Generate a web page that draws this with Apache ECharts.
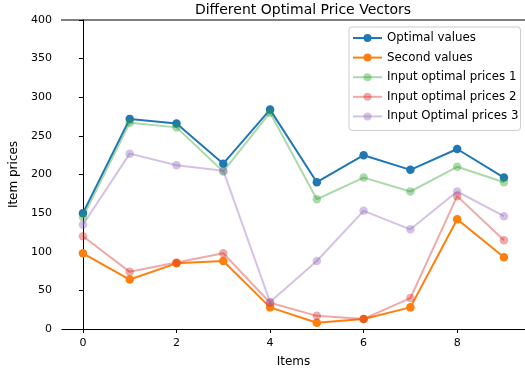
<!DOCTYPE html>
<html><head><meta charset="utf-8">
<script src="https://cdn.jsdelivr.net/npm/echarts@6/dist/echarts.min.js"></script>
<style>html,body{margin:0;padding:0;background:#fff}#c{width:525px;height:379px}</style>
</head><body><div id="c"></div>
<script>
var items = [0,1,2,3,4,5,6,7,8,9];
var optimalValues = [150,272,266,214,284,190,225,206,233,196];
var secondValues = [98,64,85,88,28,8,13,28,142,93];
var inputPrices1 = [145,267,261,204,280,168,196,178,210,190];
var inputPrices2 = [120,74,86,98,34,17,13,40,172,115];
var inputPrices3 = [135,227,212,205,35,88,153,129,178,146];
var xTicks = [0,2,4,6,8];
var seriesNames = ['Optimal values','Second values','Input optimal prices 1','Input optimal prices 2','Input Optimal prices 3'];
var colors = ['#1f77b4','#ff7f0e','#2ca02c','#d62728','#9467bd'];
var alphas = [1,1,0.4,0.4,0.4];
var allData = [optimalValues, secondValues, inputPrices1, inputPrices2, inputPrices3];

var FONT = 'DejaVu Sans';
var series = allData.map(function(arr, k){
  return {
    name: seriesNames[k], type: 'line',
    data: items.map(function(x,i){return [x, arr[i]];}),
    symbol: 'circle', symbolSize: 8.5, showSymbol: true,
    lineStyle: {color: colors[k], width: 2, opacity: alphas[k]},
    itemStyle: {color: colors[k], opacity: alphas[k]},
    emphasis: {disabled: true},
    animation: false
  };
});

var chart = echarts.init(document.getElementById('c'));
chart.setOption({
  backgroundColor: '#fff',
  textStyle: {fontFamily: FONT},
  title: {text: 'Different Optimal Price Vectors', left: 298, top: -2, textAlign: 'center',
    textStyle: {fontFamily: FONT, fontSize: 14, fontWeight: 'normal', color: '#000'}},
  grid: {left: 61, top: 20, width: 471, height: 309, containLabel: false},
  legend: {
    orient: 'vertical', left: 349, top: 27,
    padding: [4, 2, 7, 3],
    itemWidth: 29, itemHeight: 10, itemGap: 5.6,
    backgroundColor: 'rgba(255,255,255,0.8)', borderColor: '#ccc', borderWidth: 1, borderRadius: 3,
    textStyle: {fontFamily: FONT, fontSize: 11.8, color: '#000', lineHeight: 14},
    data: seriesNames
  },
  xAxis: {
    type: 'value', min: -0.45, max: 9.45,
    name: 'Items', nameLocation: 'middle', nameGap: 27,
    nameTextStyle: {fontFamily: FONT, fontSize: 12, color: '#000'},
    axisLine: {show: true, lineStyle: {color: '#000', width: 1}},
    axisTick: {show: true, length: 4, customValues: xTicks, lineStyle: {color: '#000'}},
    axisLabel: {customValues: xTicks, margin: 9, fontFamily: FONT, fontSize: 11, color: '#000'},
    splitLine: {show: false}
  },
  yAxis: {
    type: 'value', min: 0, max: 400, interval: 50,
    name: 'Item prices', nameLocation: 'middle', nameGap: 37, nameRotate: 90,
    nameTextStyle: {fontFamily: FONT, fontSize: 12, color: '#000'},
    axisLine: {show: true, lineStyle: {color: '#000', width: 1}},
    axisTick: {show: true, length: 4, lineStyle: {color: '#000'}},
    axisLabel: {margin: 10, fontFamily: FONT, fontSize: 11, color: '#000'},
    splitLine: {show: false}
  },
  graphic: [{type: 'line', shape: {x1: 61, y1: 20, x2: 532, y2: 20}, style: {stroke: '#000', lineWidth: 1}}],
  series: series
});
</script></body></html>
